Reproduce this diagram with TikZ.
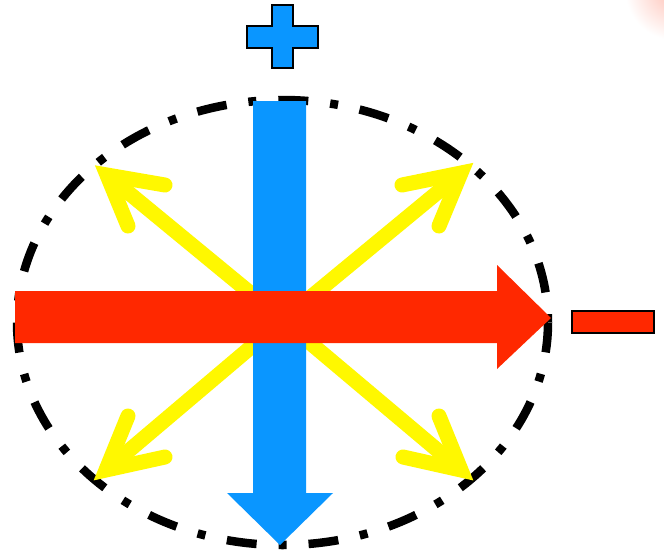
\documentclass[tikz,border=0pt]{standalone}
\usetikzlibrary{calc}
\definecolor{pblue}{RGB}{10,150,255}
\definecolor{pred}{RGB}{255,40,0}
\definecolor{pyellow}{RGB}{255,248,0}
\tikzset{
  ring/.style={line width=8.5pt, dash pattern=on 30pt off 22pt on 8pt off 22pt},
  yshaft/.style={draw=pyellow, line width=15pt},
  yhead/.style={draw=pyellow, line width=15pt, line cap=round, line join=miter, miter limit=10},
  bigarrow/.style={line join=miter},
  signbox/.style={draw=black, line width=2pt, line join=miter}
}
\begin{document}
\begin{tikzpicture}[x=1pt,y=-1pt]
\useasboundingbox (0,0) rectangle (664,554);
\fill[white] (0,0) rectangle (664,554);
% faint reddish glow in the corner
\begin{scope}
\clip (0,0) rectangle (664,554);
\shade[inner color=pred!30, outer color=white] (675,-10) circle (50);
\end{scope}
\coordinate (c) at (283,320);
\coordinate (ul) at (107,175);
\coordinate (ur) at (461,173);
\coordinate (ll) at (106,470);
\coordinate (lr) at (461,470);
% ellipse
\draw[ring] (282.5,322.5) ellipse [x radius=265.5, y radius=222.5];
% yellow arrows
\draw[yshaft] (c) -- ($(ul)!4pt!(c)$);
\draw[yhead] (165,185) -- (ul) -- (128,226);
\draw[yshaft] (c) -- ($(ur)!4pt!(c)$);
\draw[yhead] (402,185) -- (ur) -- (439,226);
\draw[yshaft] (c) -- ($(ll)!4pt!(c)$);
\draw[yhead] (165,457) -- (ll) -- (128,416);
\draw[yshaft] (c) -- ($(lr)!4pt!(c)$);
\draw[yhead] (439,416) -- (lr) -- (403,457);
% blue arrow
\fill[pblue, bigarrow] (253,101) -- (306,101) -- (306,493) -- (333,493) -- (280,545) -- (227,493) -- (253,493) -- cycle;
% red arrow
\fill[pred, bigarrow] (15,291) -- (497,291) -- (497,265) -- (551,318) -- (497,369) -- (497,343) -- (15,343) -- cycle;
% plus
\filldraw[signbox, fill=pblue] (272,5) -- (293,5) -- (293,26) -- (318,26) -- (318,48) -- (293,48) -- (293,68) -- (272,68) -- (272,48) -- (247,48) -- (247,26) -- (272,26) -- cycle;
% minus
\filldraw[signbox, fill=pred] (572,311) rectangle (654,333);
\end{tikzpicture}
\end{document}
